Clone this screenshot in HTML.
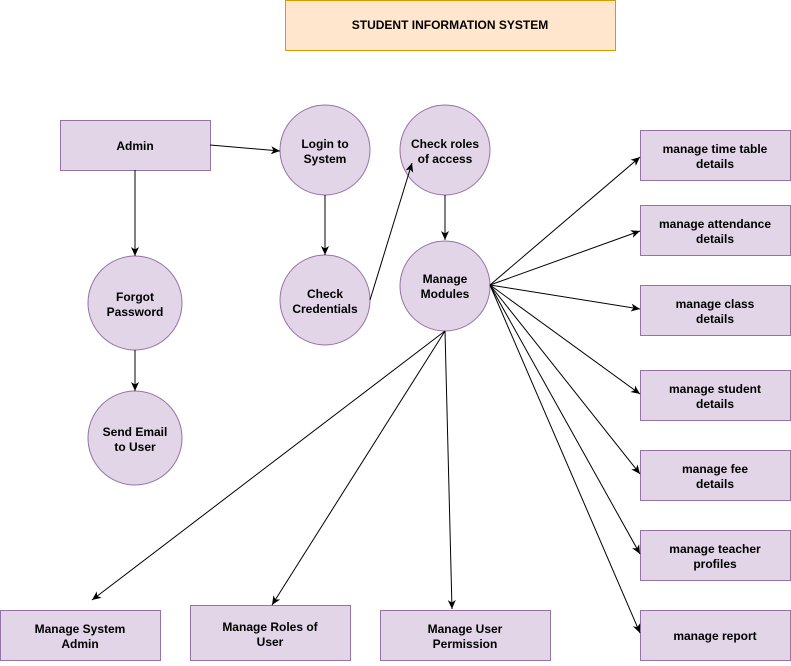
<!DOCTYPE html>
<html><head><meta charset="utf-8"><style>
html,body{margin:0;padding:0;background:#fff;}
svg text{font-family:"Liberation Sans",Arial,sans-serif;font-weight:bold;font-size:12px;text-anchor:middle;fill:#000;}
</style></head><body>
<svg width="791" height="661" viewBox="0 0 791 661" xmlns="http://www.w3.org/2000/svg">
<defs><marker id="a" markerWidth="10" markerHeight="10" refX="9" refY="5" orient="auto" markerUnits="userSpaceOnUse"><path d="M0,1 L9,5 L0,9 L2.5,5 z" fill="#000"/></marker></defs>
<rect x="285.5" y="0.5" width="330" height="50" fill="#ffe6cc" stroke="#d79b00"/>
<text x="450" y="29">STUDENT INFORMATION SYSTEM</text>
<g fill="#e1d5e7" stroke="#9673a6">
<rect x="60.5" y="120.5" width="150" height="50"/>
<circle cx="325" cy="150" r="45"/>
<circle cx="445" cy="150" r="45"/>
<circle cx="135" cy="303" r="47"/>
<circle cx="135" cy="438" r="47"/>
<circle cx="325" cy="300" r="45"/>
<circle cx="445" cy="286" r="45"/>
<rect x="640.5" y="130.5" width="150" height="50"/>
<rect x="640.5" y="205.5" width="150" height="50"/>
<rect x="640.5" y="285.5" width="150" height="50"/>
<rect x="640.5" y="370.5" width="150" height="50"/>
<rect x="640.5" y="450.5" width="150" height="50"/>
<rect x="640.5" y="530.5" width="150" height="50"/>
<rect x="640.5" y="610.5" width="150" height="50"/>
<rect x="0.5" y="610.5" width="160" height="50"/>
<rect x="190.5" y="605.5" width="160" height="55"/>
<rect x="380.5" y="610.5" width="170" height="50"/>
</g>
<g stroke="#000" stroke-width="1" fill="none" marker-end="url(#a)">
<line x1="210" y1="145" x2="280" y2="151"/>
<line x1="135" y1="170" x2="135" y2="256"/>
<line x1="135" y1="350" x2="135" y2="391"/>
<line x1="325" y1="195" x2="325" y2="255"/>
<line x1="370" y1="300" x2="412" y2="163"/>
<line x1="445" y1="195" x2="445" y2="240"/>
<line x1="490" y1="285" x2="640" y2="157"/>
<line x1="490" y1="285" x2="640" y2="231"/>
<line x1="490" y1="285" x2="640" y2="309"/>
<line x1="490" y1="285" x2="640" y2="394"/>
<line x1="490" y1="285" x2="640" y2="474"/>
<line x1="490" y1="285" x2="640" y2="554"/>
<line x1="490" y1="285" x2="640" y2="633"/>
<line x1="445" y1="331" x2="92" y2="600"/>
<line x1="445" y1="331" x2="272" y2="605"/>
<line x1="445" y1="331" x2="452" y2="609"/>
</g>
<text x="135" y="150">Admin</text>
<text x="325" y="148">Login to</text><text x="325" y="163">System</text>
<text x="445" y="148">Check roles</text><text x="445" y="163">of access</text>
<text x="135" y="301">Forgot</text><text x="135" y="316">Password</text>
<text x="135" y="436">Send Email</text><text x="135" y="451">to User</text>
<text x="325" y="298">Check</text><text x="325" y="313">Credentials</text>
<text x="445" y="283">Manage</text><text x="445" y="298">Modules</text>
<text x="715" y="153">manage time table</text><text x="715" y="168">details</text>
<text x="715" y="228">manage attendance</text><text x="715" y="243">details</text>
<text x="715" y="308">manage class</text><text x="715" y="323">details</text>
<text x="715" y="393">manage student</text><text x="715" y="408">details</text>
<text x="715" y="473">manage fee</text><text x="715" y="488">details</text>
<text x="715" y="553">manage teacher</text><text x="715" y="568">profiles</text>
<text x="715" y="640">manage report</text>
<text x="80" y="633">Manage System</text><text x="80" y="648">Admin</text>
<text x="270" y="631">Manage Roles of</text><text x="270" y="646">User</text>
<text x="465" y="633">Manage User</text><text x="465" y="648">Permission</text>
</svg>
</body></html>
